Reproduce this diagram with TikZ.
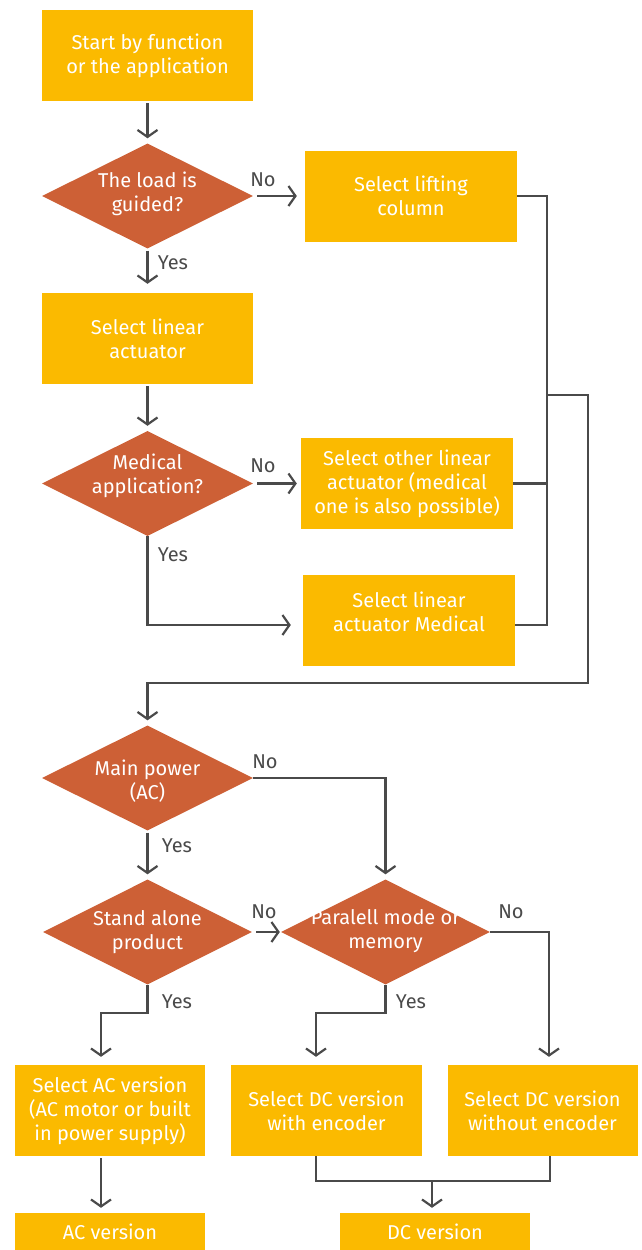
\documentclass[tikz,border=0pt]{standalone}
\usepackage{fontspec}
\setmainfont{Fira Sans}
\usepackage{xcolor}
\usepackage{tikz}
\usetikzlibrary{arrows.meta,shapes.geometric}
\definecolor{boxc}{HTML}{FBBA00}
\definecolor{diac}{HTML}{CD6036}
\definecolor{linec}{HTML}{4A4A4A}
\newcommand{\flowfont}{\fontsize{20}{24}\selectfont}
\tikzset{
  ar/.style={-{Straight Barb[length=7pt,width=20pt]},line width=2.2pt,linec,shorten >=5pt,shorten <=2pt},
  ln/.style={line width=2.2pt,linec},
  box/.style={fill=boxc,text=white,align=center,minimum width=211pt,minimum height=91pt,inner sep=0pt,font=\flowfont},
  dia/.style={diamond,fill=diac,minimum width=211pt,minimum height=105pt,inner sep=0pt},
  dtxt/.style={text=white,align=center,font=\flowfont},
  lbl/.style={text=linec,font=\flowfont}
}

\begin{document}
\begin{tikzpicture}[x=1pt,y=-1pt]
\useasboundingbox[fill=white] (0,0) rectangle (641,1250);
% upper part
\node[box] (start) at (147.5,55.5) {Start by function\\or the application};
\node[dia] (guided) at (147.5,196) {};
\node[dtxt] (guidedt) at (147.5,194) {The load is\\guided?};
\node[box,minimum width=212pt] (lift) at (411,196) {Select lifting\\column};
\node[box] (linact) at (147.5,338.5) {Select linear\\actuator};
\node[dia] (medq) at (147.5,483.5) {};
\node[dtxt] (medqt) at (147.5,476) {Medical\\application?};
\node[box,minimum width=212pt] (other) at (407,483.5) {Select other linear\\actuator (medical\\one is also possible)};
\node[box,minimum width=212pt] (med) at (409,620) {Select linear\\actuator Medical\\[-7pt]};
% lower part
\node[dia] (power) at (147.5,778) {};
\node[dtxt] (powert) at (147.5,781) {Main power\\(AC)};
\node[dia,minimum width=209pt] (stand) at (147.5,932) {};
\node[dtxt] (standt) at (147.5,932) {Stand alone\\product};
\node[dia,minimum width=209pt] (par) at (385.5,932) {};
\node[dtxt] (part) at (385.5,931) {Paralell mode or\\memory};
\node[box,minimum width=190pt] (acsel) at (110,1110.5) {Select AC version\\(AC motor or built\\in power supply)};
\node[box,minimum width=191pt] (dcenc) at (326.5,1110.5) {Select DC version\\with encoder};
\node[box,minimum width=190pt] (dcno) at (542.5,1110.5) {Select DC version\\without encoder};
\node[box,minimum width=190pt,minimum height=37pt] (acv) at (110,1231.5) {AC version};
\node[box,minimum width=190pt,minimum height=37pt] (dcv) at (435,1231.5) {DC version};
% joints
\coordinate (bt) at (547,196);
\coordinate (bb) at (547,625);
\coordinate (br) at (547,395);
\coordinate (jog) at (588,683);
\coordinate (dcj) at (432,1181);
% connectors
\draw[ar] (start) -- (guided);
\draw[ar,shorten <=4pt,shorten >=8pt] (guided) -- (lift);
\draw[ar,shorten >=9pt] (guided) -- (linact);
\draw[ar] (linact) -- (medq);
\draw[ar,shorten <=4pt,shorten >=4pt] (medq) -- (other);
\draw[ar,shorten <=0pt,shorten >=12pt] (medq.south) |- ([yshift=-5pt]med.west);
\draw[ln] (lift.east) -- (bt) -- (bb) -- ([yshift=-5pt]med.east);
\draw[ln] (other.east) -- (other.east -| bt);
\draw[ar,shorten <=0pt] (br) -| (jog) -| (power.north);
\draw[ar,shorten <=0pt] (power.east) -| (par.north);
\draw[ar] (power) -- (stand);
\draw[ar,shorten <=4pt,shorten >=1pt] (stand) -- (par);
\draw[ar,shorten <=0pt,shorten >=8pt] (par.east) -| ([xshift=6.5pt]dcno.north);
\draw[ar,shorten <=0pt,shorten >=8pt] (stand.south) -- ++(0,28) -| ([xshift=-9pt]acsel.north);
\draw[ar,shorten <=0pt,shorten >=8pt] (par.south) -- ++(0,28) -| ([xshift=-10.5pt]dcenc.north);
\draw[ar] ([xshift=-9pt]acsel.south) -- ([xshift=-9pt]acv.north);
\draw[ln] ([xshift=-10.5pt]dcenc.south) |- (dcj) -| ([xshift=7.5pt]dcno.south);
\draw[ar,shorten <=0pt] (dcj) -- (dcj |- dcv.north);
% labels
\node[lbl] (no1) at (263,180) {No};
\node[lbl] (yes1) at (173,263) {Yes};
\node[lbl] (no2) at (263,466) {No};
\node[lbl] (yes2) at (173,555) {Yes};
\node[lbl] (no3) at (265,762) {No};
\node[lbl] (yes3) at (177,846) {Yes};
\node[lbl] (no4) at (264,912) {No};
\node[lbl] (no5) at (511,912) {No};
\node[lbl] (yes4) at (177,1002) {Yes};
\node[lbl] (yes5) at (411,1002) {Yes};
\end{tikzpicture}
\end{document}
